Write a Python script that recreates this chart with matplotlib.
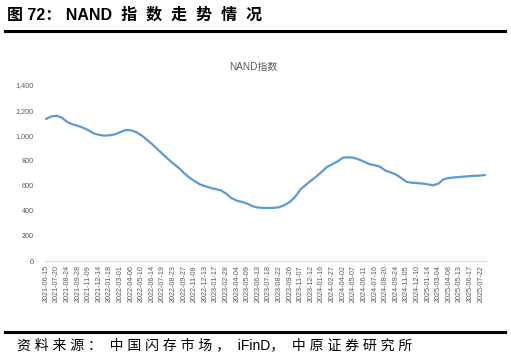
import matplotlib
matplotlib.use("Agg")
import matplotlib.pyplot as plt
import numpy as np

plt.rcParams['font.family'] = ['Liberation Sans', 'Noto Sans CJK SC', 'DejaVu Sans']

tick_labels = ["2021-06-15", "2021-07-20", "2021-08-24", "2021-09-28", "2021-11-09", "2021-12-14",
               "2022-01-18", "2022-03-01", "2022-04-06", "2022-05-10", "2022-06-14", "2022-07-19",
               "2022-08-23", "2022-09-27", "2022-11-08", "2022-12-13", "2023-01-17", "2023-02-28",
               "2023-04-04", "2023-05-09", "2023-06-13", "2023-07-18", "2023-08-22", "2023-09-26",
               "2023-11-07", "2023-12-12", "2024-01-16", "2024-02-27", "2024-04-02", "2024-05-07",
               "2024-06-11", "2024-07-16", "2024-08-20", "2024-09-24", "2024-11-05", "2024-12-10",
               "2025-01-14", "2025-03-04", "2025-04-08", "2025-05-13", "2025-06-17", "2025-07-22"]

# values read at each tick label and half-way between labels (weekly index, 5 weeks per label)
weeks = [0, 2.5, 5, 7.5, 10, 12.5, 15, 17.5, 20, 22.5, 25, 27.5, 30, 32.5, 35, 37.5, 40, 42.5,
         45, 47.5, 50, 52.5, 55, 57.5, 60, 62.5, 65, 67.5, 70, 72.5, 75, 77.5, 80, 82.5, 85, 87.5,
         90, 92.5, 95, 97.5, 100, 102.5, 105, 107.5, 110, 112.5, 115, 117.5, 120, 122.5, 125, 127.5,
         130, 132.5, 135, 137.5, 140, 142.5, 145, 147.5, 150, 152.5, 155, 157.5, 160, 162.5, 165, 167.5,
         170, 172.5, 175, 177.5, 180, 182.5, 185, 187.5, 190, 192.5, 195, 197.5, 200, 202.5, 205, 207]
values = [1130, 1150, 1155, 1140, 1105, 1087, 1075, 1060, 1040, 1015, 1003, 997, 1000, 1008, 1025, 1042,
          1040, 1025, 1000, 965, 930, 890, 850, 812, 775, 742, 700, 665, 635, 610, 595, 582, 572, 562,
          535, 500, 480, 470, 455, 435, 425, 422, 422, 423, 428, 445, 470, 510, 570, 605, 640, 672,
          710, 748, 770, 792, 822, 825, 822, 808, 790, 770, 762, 750, 720, 705, 688, 660, 630, 622,
          620, 616, 610, 602, 615, 650, 660, 665, 668, 672, 675, 678, 680, 684]

fig = plt.figure(figsize=(5.11, 3.59), dpi=100)
W, H = 511, 359

ax = fig.add_axes([45 / W, (H - 261) / H, (486 - 45) / W, (261 - 85) / H])
ax.plot(weeks, values, color='#5B9BD5', lw=1.6, solid_capstyle='round')
ax.set_xlim(-0.5, 207.5)
ax.set_ylim(0, 1400)
ax.set_yticks(np.arange(0, 1401, 200))
ax.set_yticklabels([f"{v:,}" for v in range(0, 1401, 200)])
ax.set_xticks(np.arange(len(tick_labels)) * 5)
ax.set_xticklabels(tick_labels, rotation=90)
for s in ['top', 'right', 'left']:
    ax.spines[s].set_visible(False)
ax.spines['bottom'].set_color('#D9D9D9')
ax.spines['bottom'].set_linewidth(0.8)
ax.tick_params(axis='both', length=0, labelsize=5.2, colors='#595959')
ax.tick_params(axis='y', pad=8)
ax.tick_params(axis='x', pad=3)

fig.text(253 / W, 1 - 67 / H, "NAND指数", ha='center', va='center', fontsize=7.2, color='#595959')

fig.text(7 / W, 1 - 15 / H, "图 72： NAND  指  数  走  势  情  况", ha='left', va='center', fontsize=11.5,
         fontweight='bold', color='#000000')
fig.add_artist(plt.Line2D([5 / W, 505 / W], [1 - 31 / H, 1 - 31 / H], color='black', lw=2.2))
fig.add_artist(plt.Line2D([5 / W, 505 / W], [1 - 332 / H, 1 - 332 / H], color='black', lw=2.2))
fig.text(17 / W, 1 - 345 / H, "资 料 来 源 ：  中 国 闪 存 市 场 ，  iFinD，  中 原 证 券 研 究 所",
         ha='left', va='center', fontsize=10, color='#000000')

fig.savefig("out.png", dpi=100)
